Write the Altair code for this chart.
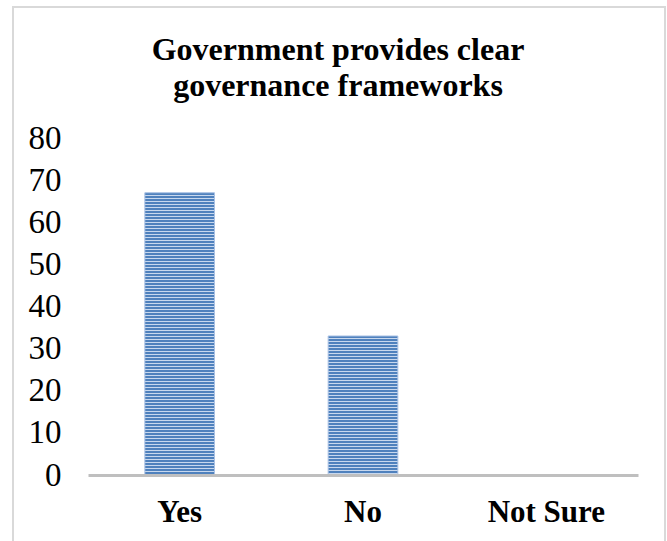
import altair as alt
import pandas as pd

# ---- data ----
categories = ["Yes", "No", "Not Sure"]
values = [67, 33, 0]
y_ticks = [0, 10, 20, 30, 40, 50, 60, 70, 80]
title_lines = ["Government provides clear", "governance frameworks"]

df = pd.DataFrame({"category": categories, "value": values})
title_df = pd.DataFrame({"t": ["\n".join(title_lines)]})

# ---- layout / style ----
W, H = 550, 337
PAD_L, PAD_T, PAD_R, PAD_B = 88, 138, 29, 66
YMAX = 80
SERIF = "Liberation Serif"
DARK = "#4F81BD"
LIGHT = "#C8D8EE"
PERIOD = 3.0


def stripes(value):
    h = value / YMAX * H
    stops = []
    p = 0.0
    while p < h:
        a = p / h
        m = min(1.0, (p + 0.6 * PERIOD) / h)
        b = min(1.0, (p + PERIOD) / h)
        stops += [
            alt.GradientStop(offset=a, color=DARK),
            alt.GradientStop(offset=m, color=DARK),
            alt.GradientStop(offset=m, color=LIGHT),
            alt.GradientStop(offset=b, color=LIGHT),
        ]
        p += PERIOD
    return alt.LinearGradient(gradient="linear", stops=stops, x1=0, x2=0, y1=0, y2=1)


x_enc = alt.X(
    "category:N",
    sort=categories,
    scale=alt.Scale(domain=categories, paddingInner=0.62, paddingOuter=0.31),
    axis=alt.Axis(
        title=None,
        labelAngle=0,
        labelFont=SERIF,
        labelFontSize=31,
        labelFontWeight="bold",
        labelColor="black",
        ticks=False,
        domainColor="#BFBFBF",
        domainWidth=3,
        labelPadding=22,
        zindex=1,
    ),
)
y_enc = alt.Y(
    "value:Q",
    scale=alt.Scale(domain=[0, YMAX]),
    axis=alt.Axis(
        values=y_ticks,
        title=None,
        grid=False,
        domain=False,
        ticks=False,
        labelFont=SERIF,
        labelFontSize=33,
        labelColor="black",
        labelPadding=27,
        zindex=1,
    ),
)

frame = alt.Chart(pd.DataFrame({"f": [0]})).mark_rect(
    fill="white", fillOpacity=0, stroke="#D9D9D9", strokeWidth=2
).encode(
    x=alt.value(13 - PAD_L),
    x2=alt.value(665 - PAD_L),
    y=alt.value(7 - PAD_T),
    y2=alt.value(600 - PAD_T),
)

title = alt.Chart(title_df).mark_text(
    font=SERIF,
    fontSize=32,
    fontWeight="bold",
    color="black",
    align="center",
    baseline="alphabetic",
    lineBreak="\n",
    lineHeight=36,
).encode(
    text="t:N",
    x=alt.value(338 - PAD_L),
    y=alt.value(60 - PAD_T),
)

layers = [frame]
for cat, val in zip(categories, values):
    if val <= 0:
        continue
    layers.append(
        alt.Chart(df)
        .transform_filter(alt.datum.category == cat)
        .mark_bar(fill=stripes(val), stroke="#A9C1E4", strokeWidth=1)
        .encode(x=x_enc, y=y_enc)
    )
layers.append(title)

chart = (
    alt.layer(*layers)
    .properties(
        width=W,
        height=H,
        background="white",
        autosize=alt.AutoSizeParams(type="none"),
        padding={"left": PAD_L, "top": PAD_T, "right": PAD_R, "bottom": PAD_B},
    )
    .configure_view(stroke="transparent", strokeWidth=0)
)

chart.save("out.html", embed_options={"renderer": "svg", "actions": False})
